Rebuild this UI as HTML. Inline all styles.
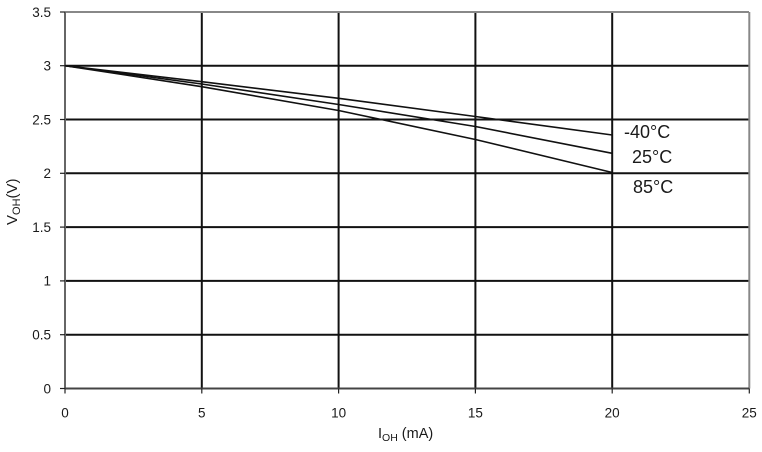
<!DOCTYPE html>
<html><head><meta charset="utf-8"><style>
html,body{margin:0;padding:0;background:#fff;}
svg{display:block;}
text{font-family:"Liberation Sans",Arial,sans-serif;fill:#1a1a1a;}
</style></head><body>
<svg width="762" height="452" viewBox="0 0 762 452" xmlns="http://www.w3.org/2000/svg">
<!-- horizontal grid -->
<g stroke="#111" stroke-width="2">
<line x1="65" y1="65.7" x2="749" y2="65.7"/>
<line x1="65" y1="119.5" x2="749" y2="119.5"/>
<line x1="65" y1="173.3" x2="749" y2="173.3"/>
<line x1="65" y1="227.1" x2="749" y2="227.1"/>
<line x1="65" y1="280.9" x2="749" y2="280.9"/>
<line x1="65" y1="334.7" x2="749" y2="334.7"/>
<line x1="201.8" y1="12" x2="201.8" y2="388.5"/>
<line x1="338.6" y1="12" x2="338.6" y2="388.5"/>
<line x1="475.4" y1="12" x2="475.4" y2="388.5"/>
<line x1="612.2" y1="12" x2="612.2" y2="388.5"/>
</g>
<!-- border -->
<line x1="65" y1="12" x2="749" y2="12" stroke="#888" stroke-width="2"/>
<line x1="749.3" y1="12" x2="749.3" y2="388.5" stroke="#888" stroke-width="2"/>
<line x1="65" y1="12" x2="65" y2="388.5" stroke="#666" stroke-width="2"/>
<line x1="65" y1="388.5" x2="749" y2="388.5" stroke="#444" stroke-width="2"/>
<!-- ticks -->
<g stroke="#222" stroke-width="1.2">
<line x1="60" y1="12" x2="65" y2="12"/>
<line x1="60" y1="65.7" x2="65" y2="65.7"/>
<line x1="60" y1="119.5" x2="65" y2="119.5"/>
<line x1="60" y1="173.3" x2="65" y2="173.3"/>
<line x1="60" y1="227.1" x2="65" y2="227.1"/>
<line x1="60" y1="280.9" x2="65" y2="280.9"/>
<line x1="60" y1="334.7" x2="65" y2="334.7"/>
<line x1="60" y1="388.5" x2="65" y2="388.5"/>
<line x1="65" y1="388.5" x2="65" y2="393.5"/>
<line x1="201.8" y1="388.5" x2="201.8" y2="393.5"/>
<line x1="338.6" y1="388.5" x2="338.6" y2="393.5"/>
<line x1="475.4" y1="388.5" x2="475.4" y2="393.5"/>
<line x1="612.2" y1="388.5" x2="612.2" y2="393.5"/>
<line x1="749.3" y1="388.5" x2="749.3" y2="393.5"/>
</g>
<!-- curves -->
<g stroke="#111" stroke-width="1.6" fill="none" stroke-linejoin="round">
<polyline points="65,65.7 201.8,81.7 338.6,98.3 475.4,116.5 612.2,135"/>
<polyline points="65,65.7 201.8,84 338.6,104.5 475.4,126.5 612.2,153.3"/>
<polyline points="65,65.7 201.8,86.7 338.6,110.5 475.4,139.5 612.2,172.5"/>
</g>
<!-- y labels -->
<g font-size="13.5" text-anchor="end">
<text x="51" y="17">3.5</text>
<text x="51" y="70.5">3</text>
<text x="51" y="124.3">2.5</text>
<text x="51" y="178.1">2</text>
<text x="51" y="231.9">1.5</text>
<text x="51" y="285.7">1</text>
<text x="51" y="339.5">0.5</text>
<text x="51" y="393.3">0</text>
</g>
<!-- x labels -->
<g font-size="13.5" text-anchor="middle">
<text x="65" y="417.5">0</text>
<text x="201.8" y="417.5">5</text>
<text x="338.6" y="417.5">10</text>
<text x="475.4" y="417.5">15</text>
<text x="612.2" y="417.5">20</text>
<text x="749.3" y="417.5">25</text>
</g>
<!-- axis titles -->
<text x="378" y="438" font-size="14.5">I<tspan font-size="10.5" dy="3">OH</tspan><tspan dy="-3"> (mA)</tspan></text>
<text transform="translate(17,225) rotate(-90)" font-size="15">V<tspan font-size="11" dy="3">OH</tspan><tspan dy="-3">(V)</tspan></text>
<!-- series labels -->
<g font-size="18">
<text x="624" y="138">-40°C</text>
<text x="632" y="163">25°C</text>
<text x="633" y="193">85°C</text>
</g>
</svg>
</body></html>
